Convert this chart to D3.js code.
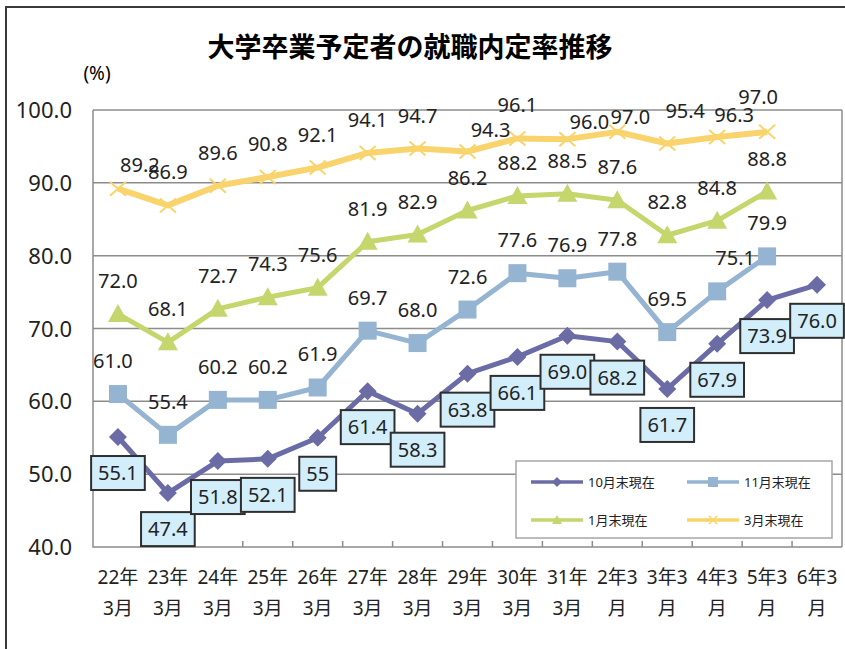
<!DOCTYPE html>
<html>
<head>
<meta charset="utf-8">
<script src="https://cdn.jsdelivr.net/npm/d3@7"></script>
<style>
  body { margin: 0; background: #fff; }
  text { font-family: "Noto Sans", "Noto Sans CJK JP", sans-serif; }
</style>
</head>
<body>
<div id="wrapper"></div>
<script>
// Data
const categories = ["22年|3月", "23年|3月", "24年|3月", "25年|3月", "26年|3月", "27年|3月", "28年|3月",
  "29年|3月", "30年|3月", "31年|3月", "2年3|月", "3年3|月", "4年3|月", "5年3|月", "6年3|月"];
const yTicks = [40, 50, 60, 70, 80, 90, 100];
const seriesNames = ["10月末現在", "11月末現在", "1月末現在", "3月末現在"];
const oct = [55.1, 47.4, 51.8, 52.1, 55, 61.4, 58.3, 63.8, 66.1, 69.0, 68.2, 61.7, 67.9, 73.9, 76.0];
const nov = [61.0, 55.4, 60.2, 60.2, 61.9, 69.7, 68.0, 72.6, 77.6, 76.9, 77.8, 69.5, 75.1, 79.9, null];
const jan = [72.0, 68.1, 72.7, 74.3, 75.6, 81.9, 82.9, 86.2, 88.2, 88.5, 87.6, 82.8, 84.8, 88.8, null];
const mar = [89.2, 86.9, 89.6, 90.8, 92.1, 94.1, 94.7, 94.3, 96.1, 96.0, 97.0, 95.4, 96.3, 97.0, null];

// Label nudges (layout only), index -> [dx, dy]
const novNudge = { 0: [-5, 0], 12: [18, 0] };
const marNudge = { 0: [22, 9], 7: [23, 11], 9: [22, 16], 10: [13, 18], 11: [18, 0], 12: [17, 11], 13: [-9, -2] };

const colors = ["#6b6ca6", "#94b4d2", "#c4d66c", "#f9d46c"];

const markerPath = (type) => {
  if (type === "diamond") return "M0,-9L9,0L0,9L-9,0Z";
  if (type === "square") return "M-9,-9H9V9H-9Z";
  if (type === "triangle") return "M0,-10L10,8L-10,8Z";
  return "M-8,-7L8,7M-8,7L8,-7";
};
const smallMarker = (type) => {
  if (type === "diamond") return "M0,-5L5,0L0,5L-5,0Z";
  if (type === "square") return "M-5,-5H5V5H-5Z";
  if (type === "triangle") return "M0,-5L5,4L-5,4Z";
  return "M-4,-4L4,4M-4,4L4,-4";
};

const series = [
  { name: seriesNames[0], values: oct, color: colors[0], marker: "diamond" },
  { name: seriesNames[1], values: nov, color: colors[1], marker: "square", nudge: novNudge },
  { name: seriesNames[2], values: jan, color: colors[2], marker: "triangle", nudge: {} },
  { name: seriesNames[3], values: mar, color: colors[3], marker: "x", nudge: marNudge }
];

const svg = d3.select("#wrapper").append("svg")
  .attr("width", 845).attr("height", 649);

// outer frame
svg.append("rect")
  .attr("x", 6).attr("y", 7).attr("width", 900).attr("height", 700)
  .attr("fill", "#fff").attr("stroke", "#3a3a3a").attr("stroke-width", 2);

// title
svg.append("text")
  .attr("x", 410).attr("y", 57)
  .attr("text-anchor", "middle")
  .attr("font-size", 27).attr("font-weight", "bold")
  .style("font-family", "'Noto Sans CJK JP', sans-serif")
  .text("大学卒業予定者の就職内定率推移");

svg.append("text")
  .attr("x", 97).attr("y", 80)
  .attr("text-anchor", "middle")
  .attr("font-size", 19)
  .text("(%)");

// scales
const x = d3.scaleBand().domain(categories).range([93, 842]);
const y = d3.scaleLinear().domain([40, 100]).range([547, 110]);
const cx = (i) => x(categories[i]) + x.bandwidth() / 2;

// grid
svg.append("g")
  .selectAll("line")
  .data(yTicks.filter(d => d > 40))
  .join("line")
  .attr("x1", 93).attr("x2", 842)
  .attr("y1", d => y(d)).attr("y2", d => y(d))
  .attr("stroke", "#8c8c8c").attr("stroke-width", 1.5);

// plot borders
svg.append("path")
  .attr("d", `M93,${y(100)}V${y(40)}H842M842,${y(100)}V${y(40)}`)
  .attr("fill", "none").attr("stroke", "#8c8c8c").attr("stroke-width", 1.5);

// y tick labels
svg.append("g")
  .selectAll("text")
  .data(yTicks)
  .join("text")
  .attr("x", 72).attr("y", d => y(d) + 8)
  .attr("text-anchor", "end")
  .attr("font-size", 22)
  .attr("fill", "#222")
  .text(d => d.toFixed(1));

// x ticks (inward) at category boundaries
svg.append("g")
  .selectAll("line")
  .data(categories.slice(1))
  .join("line")
  .attr("x1", d => x(d)).attr("x2", d => x(d))
  .attr("y1", y(40)).attr("y2", y(40) - 6)
  .attr("stroke", "#8c8c8c").attr("stroke-width", 1.5);

// x labels, two lines each
const xl = svg.append("g")
  .selectAll("text")
  .data(categories)
  .join("text")
  .attr("text-anchor", "middle")
  .attr("font-size", 19)
  .attr("fill", "#222");
xl.append("tspan")
  .attr("x", d => x(d) + x.bandwidth() / 2).attr("y", 584)
  .text(d => d.split("|")[0]);
xl.append("tspan")
  .attr("x", d => x(d) + x.bandwidth() / 2).attr("y", 615)
  .text(d => d.split("|")[1]);

// lines and markers
const line = d3.line()
  .defined(d => d.v !== null)
  .x(d => cx(d.i))
  .y(d => y(d.v));

series.forEach(s => {
  const pts = s.values.map((v, i) => ({ v, i }));
  svg.append("path")
    .attr("d", line(pts))
    .attr("fill", "none")
    .attr("stroke", s.color)
    .attr("stroke-width", s.marker === "x" ? 6 : 5)
    .attr("stroke-linejoin", "round");
  svg.append("g")
    .selectAll("path")
    .data(pts.filter(d => d.v !== null))
    .join("path")
    .attr("transform", d => `translate(${cx(d.i)},${y(d.v)})`)
    .attr("d", markerPath(s.marker))
    .attr("fill", s.marker === "x" ? "none" : s.color)
    .attr("stroke", s.color)
    .attr("stroke-width", s.marker === "x" ? 2 : 0);
});

// plain value labels above points
series.slice(1).forEach(s => {
  svg.append("g")
    .selectAll("text")
    .data(s.values.map((v, i) => ({ v, i })).filter(d => d.v !== null))
    .join("text")
    .attr("x", d => cx(d.i) + (s.nudge[d.i] ? s.nudge[d.i][0] : 0))
    .attr("y", d => y(d.v) - 26 + (s.nudge[d.i] ? s.nudge[d.i][1] : 0))
    .attr("text-anchor", "middle")
    .attr("font-size", 20)
    .attr("fill", "#222")
    .text(d => d.v.toFixed(1));
});

// boxed labels for the 10月 series
const boxes = svg.append("g")
  .selectAll("g")
  .data(oct.map((v, i) => ({ v, i })))
  .join("g")
  .attr("transform", d => `translate(${cx(d.i)},${y(d.v) + 36})`);
boxes.append("rect")
  .attr("fill", "#d3eefb").attr("stroke", "#2e2e2e").attr("stroke-width", 2);
boxes.append("text")
  .attr("text-anchor", "middle")
  .attr("y", 7)
  .attr("font-size", 20)
  .attr("fill", "#222")
  .text(d => Number.isInteger(d.v) && d.i === 4 ? String(d.v) : d.v.toFixed(1));
boxes.each(function () {
  const g = d3.select(this);
  const w = g.select("text").node().getComputedTextLength() + 14;
  g.select("rect").attr("x", -w / 2).attr("y", -17).attr("width", w).attr("height", 34);
});

// legend
const legend = svg.append("g");
legend.append("rect")
  .attr("x", 516).attr("y", 461).attr("width", 316).attr("height", 77)
  .attr("fill", "#fff").attr("stroke", "#a6a6a6").attr("stroke-width", 1.5);
const legendPos = [[531, 482], [687, 482], [531, 520], [687, 520]];
series.forEach((s, k) => {
  const [lx, ly] = legendPos[k];
  legend.append("line")
    .attr("x1", lx).attr("x2", lx + 52).attr("y1", ly).attr("y2", ly)
    .attr("stroke", s.color).attr("stroke-width", 3.5);
  legend.append("path")
    .attr("transform", `translate(${lx + 26},${ly})`)
    .attr("d", smallMarker(s.marker))
    .attr("fill", s.marker === "x" ? "none" : s.color)
    .attr("stroke", s.color)
    .attr("stroke-width", s.marker === "x" ? 1.5 : 0);
  legend.append("text")
    .attr("x", lx + 57).attr("y", ly + 5)
    .attr("font-size", 13)
    .attr("fill", "#222")
    .text(s.name);
});
</script>
</body>
</html>
